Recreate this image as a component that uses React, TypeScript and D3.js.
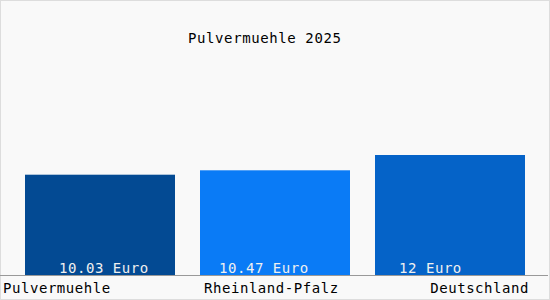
import React from "react";
import * as d3 from "d3";

const categories = ["Pulvermuehle", "Rheinland-Pfalz", "Deutschland"];
const values = [10.03, 10.47, 12];
const valueLabels = ["10.03 Euro", "10.47 Euro", "12 Euro"];
const colors = ["#034a93", "#0a7bf6", "#0563c8"];
const title = "Pulvermuehle 2025";

const W = 550;
const H = 300;
const FONT = "'DejaVu Sans Mono', monospace";

export default function App() {
  const x = d3.scaleBand<string>().domain(categories).range([0, 550]).paddingInner(1 / 7).paddingOuter(1 / 7);
  const y = d3.scaleLinear().domain([0, 24]).range([275, 35]);
  const bw = x.bandwidth();
  const valueOffsets = [34, 19, 24];

  return (
    <svg width={W} height={H} style={{ position: "absolute", left: 0, top: 0 }} fontFamily={FONT}>
      <rect x={0.5} y={0.5} width={W - 1} height={H - 1} fill="#f9f9f9" stroke="#dddddd" />
      <text x={188} y={43} fontSize={14} letterSpacing={0.6} fill="#000">{title}</text>
      {categories.map((c, i) => (
        <rect key={c} x={x(c)} y={y(values[i])} width={bw} height={y(0) - y(values[i])} fill={colors[i]} />
      ))}
      {categories.map((c, i) => (
        <text key={"v" + c} x={(x(c) as number) + valueOffsets[i]} y={272.5} fontSize={14} letterSpacing={0.55} fill="#f0f0f0">
          {valueLabels[i]}
        </text>
      ))}
      <line x1={0} x2={548} y1={275.5} y2={275.5} stroke="#999999" />
      {categories.map((c, i) => {
        const x0 = x(c) as number;
        const last = i === categories.length - 1;
        const anchor = last ? "end" : "start";
        const tx = i === 0 ? 3 : last ? x0 + bw + 4 : x0 + 4;
        return (
          <text key={"c" + c} x={tx} y={292.5} textAnchor={anchor} fontSize={14} letterSpacing={0.55} fill="#000">
            {c}
          </text>
        );
      })}
    </svg>
  );
}
